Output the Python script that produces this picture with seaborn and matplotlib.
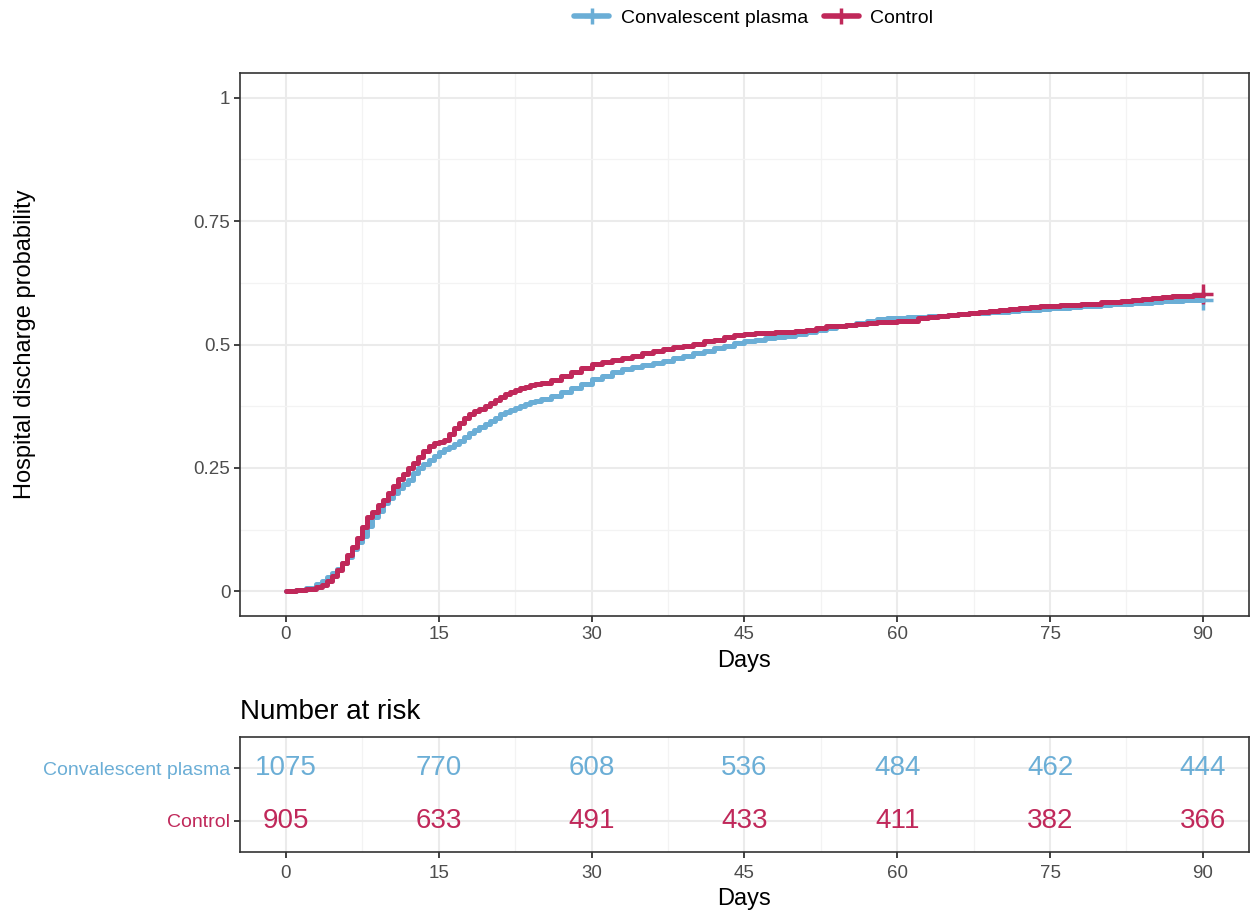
import pandas as pd
import matplotlib.pyplot as plt
from matplotlib.lines import Line2D
from matplotlib.ticker import MultipleLocator
import seaborn as sns

# Cumulative discharge probability
days = [0, 1, 2, 3,
        3.5, 4, 4.5, 5, 5.5, 6, 6.5, 7, 7.5, 8, 8.5, 9, 9.5, 10, 10.5, 11,
        11.5, 12, 12.5, 13, 13.5, 14, 14.5, 15, 15.5, 16, 16.5, 17, 17.5, 18,
        18.5, 19, 19.5, 20, 20.5, 21, 21.5, 22, 22.5, 23, 23.5, 24, 24.5, 25,
        26, 27, 28, 29, 30, 31, 32, 33, 34, 35, 36, 37, 38, 39, 40, 41, 42, 43,
        44, 45, 46, 47, 48, 49, 50, 51, 52, 53, 54, 55, 56, 57, 58, 59, 60, 61,
        62, 63, 64, 65, 66, 67, 68, 69, 70, 71, 72, 73, 74, 75, 76, 77, 78, 79,
        80, 81, 82, 83, 84, 85, 86, 87, 88, 89, 90]
plasma = [0, .003, .006, .014,
          .02, .03, .037, .045, .057, .07, .085, .1, .112, .132, .15, .163,
          .178, .19, .2, .21, .218, .225, .24, .25, .258, .266, .275, .282,
          .288, .293, .299, .305, .313, .32, .326, .332, .338, .345, .352, .359,
          .364, .368, .372, .375, .379, .383, .386, .389,
          .395, .403, .412, .42, .43, .437, .444, .451, .455, .459, .463, .467,
          .472, .477, .482, .487, .492, .497, .503, .507, .51, .513, .515, .518,
          .521, .525, .529, .533, .537, .54, .544, .548, .551, .553, .554, .555,
          .556, .557, .558, .56, .562, .563, .564, .565, .566, .567, .569, .57,
          .572, .573, .575, .576, .578, .579, .581, .582, .583, .584, .585,
          .587, .588, .589, .59, .59, .591]
control = [0, .002, .004, .008,
           .012, .02, .032, .043, .057, .073, .09, .108, .13, .15, .16, .175,
           .186, .2, .214, .227, .238, .249, .26, .273, .284, .294, .3, .303,
           .306, .318, .331, .342, .352, .36, .365, .37, .375, .382, .388, .394,
           .399, .403, .408, .411, .414, .417, .42, .423,
           .428, .436, .445, .452, .46, .464, .468, .472, .477, .482, .486, .49,
           .494, .498, .502, .507, .51, .515, .519, .522, .523, .524, .525, .526,
           .528, .53, .533, .537, .538, .54, .541, .543, .545, .546, .547, .548,
           .553, .556, .558, .56, .562, .564, .566, .568, .57, .572, .574, .576,
           .578, .579, .58, .581, .582, .583, .586, .587, .589, .59, .592, .594,
           .596, .598, .599, .6, .602]
arms = ['Convalescent plasma', 'Control']

# Number at risk table
risk_days = [0, 15, 30, 45, 60, 75, 90]
risk_plasma = [1075, 770, 608, 536, 484, 462, 444]
risk_control = [905, 633, 491, 433, 411, 382, 366]

colors = {'Convalescent plasma': '#6BAED6', 'Control': '#C0285A'}

sns.set_style('white')
plt.rcParams['font.family'] = ['Liberation Sans', 'DejaVu Sans']
plt.rcParams['text.color'] = 'black'
plt.rcParams['axes.labelcolor'] = 'black'

df = pd.DataFrame({
    'day': days * 2,
    'prob': plasma + control,
    'arm': [arms[0]] * len(days) + [arms[1]] * len(days),
})

fig = plt.figure(figsize=(12.5, 9.13), dpi=100)
ax = fig.add_axes([0.192, 0.3253, 0.807, 0.5947])
ax2 = fig.add_axes([0.192, 0.0668, 0.807, 0.126])

# curves
sns.lineplot(data=df, x='day', y='prob', hue='arm', hue_order=arms,
             palette=colors, drawstyle='steps-post', lw=3.6, estimator=None,
             legend=False, ax=ax)
last = df[df['day'] == days[-1]]
sns.scatterplot(data=last, x='day', y='prob', hue='arm', hue_order=arms,
                palette=colors, marker='+', s=220, linewidth=2.5,
                legend=False, ax=ax)


def style_axes(a):
    a.set_xlim(-4.5, 94.5)
    a.xaxis.set_major_locator(MultipleLocator(15))
    a.xaxis.set_minor_locator(MultipleLocator(7.5))
    a.set_axisbelow(True)
    a.grid(which='major', color='#EBEBEB', lw=1.5)
    a.grid(which='minor', color='#F3F3F3', lw=0.9)
    a.tick_params(which='minor', length=0)
    a.tick_params(which='major', bottom=True, left=True, length=4, width=1.3,
                  color='#333333', labelsize=13.5, labelcolor='#4D4D4D', pad=3)
    for s in a.spines.values():
        s.set_color('#333333')
        s.set_linewidth(1.2)


style_axes(ax)
ax.set_ylim(-0.05, 1.05)
ax.set_yticks([0, 0.25, 0.5, 0.75, 1])
ax.set_yticklabels(['0', '0.25', '0.5', '0.75', '1'])
ax.yaxis.set_minor_locator(MultipleLocator(0.125))
ax.set_xlabel('Days', fontsize=17, labelpad=5)
ax.set_ylabel('Hospital discharge probability', fontsize=17)
ax.yaxis.set_label_coords(-0.202, 0.5)

# risk table
style_axes(ax2)
ax2.tick_params(axis='x', pad=5)
ax2.set_ylim(1.6, -0.6)
ax2.set_yticks([0, 1])
ax2.set_yticklabels(arms, fontsize=14)
for lbl, arm in zip(ax2.get_yticklabels(), arms):
    lbl.set_color(colors[arm])
for row, counts in enumerate([risk_plasma, risk_control]):
    for d, n in zip(risk_days, counts):
        ax2.text(d, row, str(n), ha='center', va='center', fontsize=20,
                 color=colors[arms[row]])
ax2.set_title('Number at risk', loc='left', fontsize=20, pad=13)
ax2.set_xlabel('Days', fontsize=17, labelpad=5)

# legend on top
handles = [Line2D([], [], color=colors[a], lw=4, marker='+', markersize=12,
                  markeredgewidth=2.5) for a in arms]
fig.legend(handles, arms, loc='center', bbox_to_anchor=(0.603, 0.980),
           ncol=2, frameon=False, fontsize=14, handlelength=1.8,
           columnspacing=0.8, handletextpad=0.6)

fig.savefig('out.png', dpi=100)
